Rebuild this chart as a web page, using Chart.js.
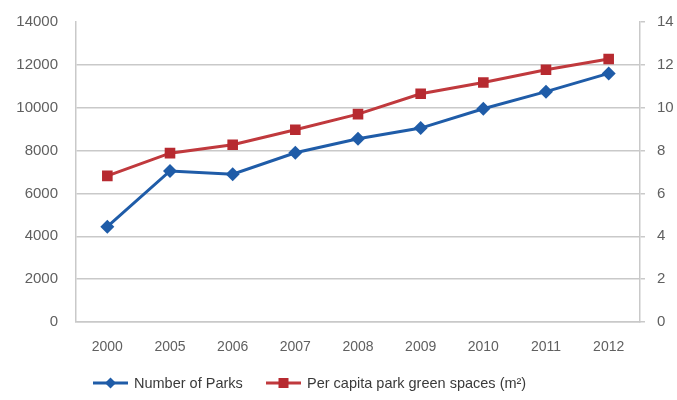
<!DOCTYPE html>
<html>
<head>
<meta charset="utf-8">
<script src="https://cdn.jsdelivr.net/npm/chart.js@4/dist/chart.umd.min.js"></script>
<style>
  html, body { margin: 0; padding: 0; background: #fff; }
  #wrap { width: 677px; height: 400px; }
</style>
</head>
<body>
<div id="wrap"><canvas id="c" width="677" height="400"></canvas></div>
<script>
// Park statistics, 2000 and 2005–2012
const years = ['2000', '2005', '2006', '2007', '2008', '2009', '2010', '2011', '2012'];
const numberOfParks = [4450, 7050, 6900, 7900, 8550, 9050, 9950, 10750, 11600];
const perCapitaGreen = [6.82, 7.88, 8.27, 8.97, 9.70, 10.65, 11.18, 11.77, 12.27];
const leftTicks = [0, 2000, 4000, 6000, 8000, 10000, 12000, 14000];
const rightTicks = [0, 2, 4, 6, 8, 10, 12, 14];

const BLUE = '#1f5ca8';
const RED = '#b72a30';
const RED_LINE = '#c0393d';
const GRID = '#c9c9c9';
const TEXT = '#606060';
const FONT = '"Liberation Sans", Arial, sans-serif';

// Bottom legend: short line with the series marker, then the series name
const lineLegend = {
  id: 'lineLegend',
  afterDraw(ch) {
    const ctx = ch.ctx;
    const y = 383;
    const items = [
      { x: 93, ds: ch.data.datasets[0], shape: 'diamond' },
      { x: 266, ds: ch.data.datasets[1], shape: 'square' }
    ];
    ctx.save();
    ctx.font = '14.5px ' + FONT;
    ctx.textBaseline = 'middle';
    ctx.textAlign = 'left';
    items.forEach(it => {
      ctx.strokeStyle = it.ds.borderColor;
      ctx.lineWidth = 3;
      ctx.beginPath(); ctx.moveTo(it.x, y); ctx.lineTo(it.x + 35, y); ctx.stroke();
      ctx.fillStyle = it.ds.backgroundColor;
      const cx = it.x + 17.5;
      if (it.shape === 'diamond') {
        ctx.beginPath();
        ctx.moveTo(cx, y - 5.5); ctx.lineTo(cx + 5.5, y); ctx.lineTo(cx, y + 5.5); ctx.lineTo(cx - 5.5, y);
        ctx.closePath(); ctx.fill();
      } else {
        ctx.fillRect(cx - 5, y - 5, 10, 10);
      }
      ctx.fillStyle = '#3a3a3a';
      ctx.fillText(it.ds.label, it.x + 41, y + 1);
    });
    ctx.restore();
  }
};

const chart = new Chart(document.getElementById('c'), {
  type: 'line',
  data: {
    labels: years,
    datasets: [
      {
        label: 'Number of Parks',
        data: numberOfParks,
        yAxisID: 'y',
        borderColor: BLUE,
        backgroundColor: BLUE,
        borderWidth: 3,
        pointStyle: 'rectRot',
        pointRadius: 7,
        pointHoverRadius: 7,
        pointBorderWidth: 0,
        tension: 0,
        order: 1
      },
      {
        label: 'Per capita park green spaces (m²)',
        data: perCapitaGreen,
        yAxisID: 'y1',
        borderColor: RED_LINE,
        backgroundColor: RED,
        borderWidth: 3,
        pointStyle: 'rect',
        pointRadius: 7.5,
        pointHoverRadius: 7.5,
        pointBorderWidth: 0,
        tension: 0,
        order: 2
      }
    ]
  },
  plugins: [lineLegend],
  options: {
    responsive: false,
    animation: false,
    layout: { autoPadding: false, padding: { left: 0, right: 0, top: 22, bottom: 38 } },
    plugins: {
      tooltip: { enabled: false },
      legend: { display: false }
    },
    scales: {
      x: {
        offset: true,
        grid: { display: false, drawTicks: false },
        border: { display: true, color: GRID, width: 1.5 },
        ticks: { color: TEXT, font: { family: FONT, size: 14 }, padding: 17, maxRotation: 0 },
        afterFit: (s) => { s.height = 40; }
      },
      y: {
        position: 'left',
        min: 0, max: 14000,
        afterBuildTicks: (s) => { s.ticks = leftTicks.map(v => ({ value: v })); },
        grid: {
          color: (c) => (c.tick && c.tick.value === 14000) ? 'rgba(0,0,0,0)' : GRID,
          lineWidth: 1.5,
          drawTicks: true,
          tickLength: 15,
          tickColor: 'rgba(0,0,0,0)'
        },
        border: { display: true, color: GRID, width: 1.5 },
        ticks: { color: TEXT, font: { family: FONT, size: 15 }, padding: 3, callback: (v) => String(v) },
        afterFit: (s) => { s.width = 76; }
      },
      y1: {
        position: 'right',
        min: 0, max: 14,
        afterBuildTicks: (s) => { s.ticks = rightTicks.map(v => ({ value: v })); },
        grid: { drawOnChartArea: false, drawTicks: true, tickLength: 5, color: GRID, lineWidth: 1.5 },
        border: { display: true, color: GRID, width: 1.5 },
        ticks: { color: TEXT, font: { family: FONT, size: 15 }, padding: 12, callback: (v) => String(v) },
        afterFit: (s) => { s.width = 37; }
      }
    }
  }
});
</script>
</body>
</html>
